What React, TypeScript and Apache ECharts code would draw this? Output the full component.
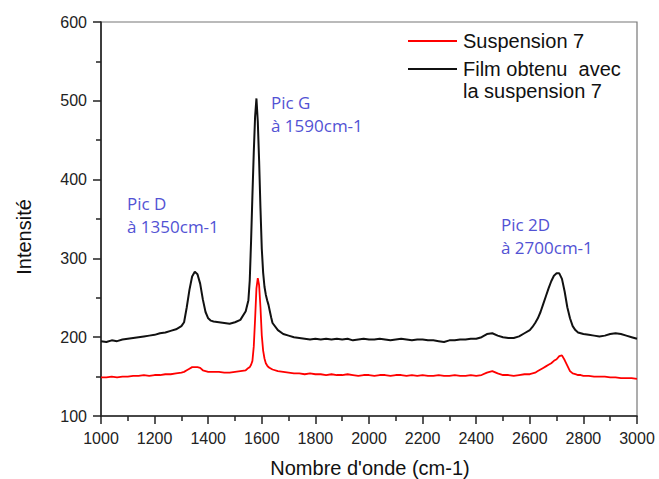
import React, { useEffect, useRef } from "react";
import * as echarts from "echarts";

// Wavenumbers (cm-1) shared by both spectra
const wavenumbers = [
  1000, 1020, 1040, 1060, 1080, 1100, 1120, 1140, 1160, 1180, 1200, 1220, 1240, 1260, 1280, 1300,
  1310, 1320, 1330, 1340, 1350, 1360, 1370, 1380, 1390, 1400, 1410, 1420,
  1440, 1460, 1480, 1500, 1520, 1540,
  1550, 1555, 1560, 1565, 1570, 1575, 1580, 1585, 1590, 1595, 1600, 1605, 1610, 1615, 1620, 1625, 1630, 1635, 1640,
  1660, 1680, 1700, 1720, 1740, 1760, 1780, 1800, 1820, 1840,
  1860, 1880, 1900, 1920, 1940, 1960, 1980, 2000, 2020, 2040,
  2060, 2080, 2100, 2120, 2140, 2160, 2180, 2200, 2220, 2240,
  2260, 2280, 2300, 2320, 2340, 2360, 2380, 2400, 2420, 2440,
  2460, 2480, 2500, 2520, 2540, 2560, 2580,
  2600, 2610, 2620, 2630, 2640, 2650, 2660, 2670, 2680, 2690, 2700, 2710, 2720, 2730, 2740, 2750, 2760, 2770, 2780, 2790, 2800,
  2820, 2840, 2860, 2880, 2900, 2920, 2940, 2960, 2980, 3000,
];

// "Film obtenu avec la suspension 7" (black)
const filmValues = [
  195, 194, 196, 195, 197, 198, 199, 200, 201, 202, 203, 205, 206, 208, 210, 214,
  219, 238, 260, 277, 283, 280, 268, 248, 232, 224, 221, 220,
  219, 218, 217, 219, 222, 233,
  247, 272, 322, 380, 434, 480, 503, 474, 424, 364, 312, 282, 264, 254, 247, 241, 233, 225, 218,
  209, 204, 202, 200, 199, 198, 197, 198, 197, 198,
  197, 198, 197, 198, 196, 197, 198, 197, 197, 198,
  197, 196, 197, 198, 197, 196, 197, 197, 196, 196,
  195, 194, 196, 196, 197, 197, 198, 198, 200, 204,
  205, 202, 200, 199, 199, 201, 205,
  209, 213, 218, 224, 232, 242, 252, 262, 271, 278, 281, 281, 274, 258, 238, 224, 214, 209, 206, 205, 204,
  203, 202, 201, 202, 204, 205, 204, 202, 200, 198,
];

// "Suspension 7" (red)
const suspensionValues = [
  149, 149, 150, 149, 150, 150, 151, 151, 152, 151, 152, 152, 153, 153, 154, 155,
  156, 158, 160, 162, 162, 162, 161, 158, 157, 156, 156, 156,
  156, 155, 155, 156, 157, 158,
  161, 162, 165, 170, 188, 223, 262, 275, 266, 238, 202, 183, 173, 167, 164, 162, 161, 160, 159,
  157, 156, 155, 154, 154, 153, 154, 153, 153, 152,
  153, 152, 152, 153, 152, 151, 152, 152, 151, 152,
  152, 151, 152, 152, 151, 152, 151, 152, 151, 151,
  152, 151, 151, 152, 151, 151, 152, 151, 152, 155,
  157, 154, 152, 152, 151, 152, 153,
  153, 154, 155, 157, 159, 161, 163, 165, 167, 170, 172, 176, 177, 171, 164, 157, 154, 153, 152, 152, 151,
  151, 150, 150, 150, 149, 149, 148, 148, 148, 147,
];

const seriesNames = ["Suspension 7", "Film obtenu  avec\nla suspension 7"];
const annotations = [
  { title: "Pic D", sub: "à 1350cm-1" },
  { title: "Pic G", sub: "à 1590cm-1" },
  { title: "Pic 2D", sub: "à 2700cm-1" },
];
const xTitle = "Nombre d'onde (cm-1)";
const yTitle = "Intensité";

export default function App() {
  const ref = useRef<HTMLDivElement>(null);
  useEffect(() => {
    if (!ref.current) return;
    const chart = echarts.init(ref.current, null, { renderer: "svg" });
    const zip = (vals: number[]) => wavenumbers.map((w, i) => [w, vals[i]]);
    const axisFont = {
      fontFamily: "Liberation Sans, Arial, sans-serif",
      fontSize: 16,
      color: "#222",
      formatter: (v: number) => String(v),
    };
    const annColor = "#5252d4";
    const annFont = "Open Sans, Noto Sans, sans-serif";
    const annPos = [
      [127, 203],
      [271, 102],
      [501, 224],
    ];
    const graphics: any[] = [];
    annotations.forEach((a, i) => {
      graphics.push({
        type: "text",
        x: annPos[i][0],
        y: annPos[i][1],
        style: {
          text: a.title,
          fill: annColor,
          font: `17px ${annFont}`,
          verticalAlign: "middle",
        },
      });
      graphics.push({
        type: "text",
        x: annPos[i][0],
        y: annPos[i][1] + 23,
        style: {
          text: a.sub,
          fill: annColor,
          font: `17px ${annFont}`,
          verticalAlign: "middle",
        },
      });
    });
    // legend
    const legendColors = ["#ff0000", "#111111"];
    const legendY = [41, 69];
    seriesNames.forEach((n, i) => {
      graphics.push({
        type: "line",
        shape: { x1: 408, y1: legendY[i], x2: 457, y2: legendY[i] },
        style: { stroke: legendColors[i], lineWidth: 2 },
      });
      graphics.push({
        type: "text",
        x: 463,
        y: legendY[i] - 11,
        style: {
          text: n,
          fill: "#111",
          font: "20px Liberation Sans, Arial, sans-serif",
          verticalAlign: "top",
          lineHeight: 22,
        },
      });
    });
    graphics.push({
      type: "text",
      x: 370,
      y: 468,
      style: {
        text: xTitle,
        fill: "#111",
        font: "20px Liberation Sans, Arial, sans-serif",
        align: "center",
        verticalAlign: "middle",
      },
    });
    graphics.push({
      type: "text",
      x: 24,
      y: 237,
      rotation: Math.PI / 2,
      style: {
        text: yTitle,
        fill: "#111",
        font: "20px Liberation Sans, Arial, sans-serif",
        align: "center",
        verticalAlign: "middle",
      },
    });

    chart.setOption({
      animation: false,
      backgroundColor: "#ffffff",
      grid: {
        left: 101,
        top: 22,
        right: 22,
        bottom: 63,
        show: true,
        borderColor: "#777",
        borderWidth: 1.2,
      },
      xAxis: {
        type: "value",
        min: 1000,
        max: 3000,
        interval: 200,
        axisLine: { show: true, onZero: false, lineStyle: { color: "#222", width: 1.6 } },
        axisTick: { show: true, inside: false, length: 8, lineStyle: { color: "#222", width: 1.5 } },
        minorTick: { show: true, splitNumber: 2, length: 5, lineStyle: { color: "#222", width: 1.5 } },
        splitLine: { show: false },
        axisLabel: { ...axisFont, margin: 14 },
      },
      yAxis: {
        type: "value",
        min: 100,
        max: 600,
        interval: 100,
        axisLine: { show: true, onZero: false, lineStyle: { color: "#222", width: 1.6 } },
        axisTick: { show: true, inside: false, length: 8, lineStyle: { color: "#222", width: 1.5 } },
        minorTick: { show: true, splitNumber: 2, length: 5, lineStyle: { color: "#222", width: 1.5 } },
        splitLine: { show: false },
        axisLabel: { ...axisFont, margin: 14 },
      },
      series: [
        {
          name: seriesNames[0],
          type: "line",
          data: zip(suspensionValues),
          showSymbol: false,
          lineStyle: { color: "#ff0000", width: 1.8 },
          itemStyle: { color: "#ff0000" },
        },
        {
          name: seriesNames[1],
          type: "line",
          data: zip(filmValues),
          showSymbol: false,
          lineStyle: { color: "#111111", width: 2 },
          itemStyle: { color: "#111111" },
        },
      ],
      graphic: graphics,
    });
    return () => chart.dispose();
  }, []);
  return (
    <div
      ref={ref}
      style={{ position: "absolute", left: 0, top: 0, width: 659, height: 479 }}
    />
  );
}
